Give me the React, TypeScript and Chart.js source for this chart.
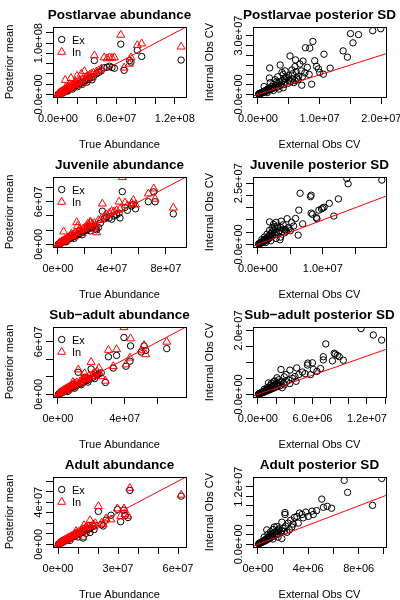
import React, { useEffect, useRef } from "react";
import { Chart, registerables } from "chart.js";

Chart.register(...registerables);

const MILLION = 1e6;
const FONT = '"Liberation Sans", Arial, Helvetica, sans-serif';

// ---------------- Postlarvae (values in millions) ----------------
const postlarvaeTrue = [0.3,0.6,1.0,1.4,1.8,2.3,2.8,3.3,3.9,4.5,5.2,6.0,6.8,7.5,8.4,9.3,10.2,11.2,12.3,13.4,14.6,15.8,17.0,18.3,19.6,21.0,22.5,24.0,25.5,27.2,29.0,30.8,32.6,34.5,36.5,37.4,39.5,42.0,44.5,47.5,50.5,53.0,55.5,58.0,64.5,68.0,73.5,75.0,81.5,86.0,126.5,5.0,10.0,15.0,20.0,25.0,30.0,35.0,8.0,12.0,18.0];
const postlarvaeEx = [0.4,0.5,0.9,1.3,1.5,2.0,2.4,3.0,3.4,4.0,4.6,5.2,6.0,6.8,7.5,8.3,9.0,10.5,11.0,12.0,13.5,14.0,15.5,17.0,18.0,19.5,21.0,22.0,24.0,26.0,27.5,29.0,32.0,33.0,35.0,66.0,40.0,43.0,46.0,52.0,53.0,55.0,52.5,51.0,98.0,47.0,66.0,63.0,86.0,74.0,67.0,2.5,6.5,10.5,15.0,19.5,24.0,28.5,10.0,14.0,20.0];
const postlarvaeIn = [0.7,1.2,1.8,2.4,2.6,3.6,3.8,4.8,5.0,6.2,6.5,7.5,8.5,28.0,10.5,11.5,12.5,13.5,15.0,31.7,17.5,18.5,19.5,21.0,36.0,23.5,26.0,40.0,29.5,45.0,34.0,36.0,38.0,40.0,42.0,76.0,44.0,47.0,50.0,72.0,70.0,72.0,71.0,72.0,116.0,52.0,59.5,72.0,96.0,99.0,93.0,4.0,9.0,13.0,18.0,23.0,29.0,33.0,14.0,20.0,26.0];
// [External Obs CV, Internal Obs CV]
const postlarvaeSd = [[19.9,33.5],[18.6,32.5],[16.3,30.5],[15.0,31.0],[15.4,26.3],[13.8,22.2],[14.5,19.0],[10.7,20.5],[11.7,13.4],[10.6,10.3],[8.9,27.0],[7.7,23.8],[8.4,23.6],[7.3,17.0],[8.0,13.8],[9.2,17.2],[9.5,14.3],[9.8,13.0],[10.0,11.2],[8.7,5.2],[7.1,4.7],[5.2,19.6],[6.1,17.6],[6.0,14.2],[6.2,11.6],[3.6,15.0],[1.9,13.5],[1.85,8.4],[4.1,10.2],[5.5,12.5],[6.8,15.5],[4.5,8.2],[5.0,9.5],[3.0,6.5],[6.5,7.5],[5.8,6.0],[5.6,10.5],[6.35,8.3],[4.3,7.9],[7.0,12.0],[7.6,11.0],[8.3,10.2],[7.2,9.0],[6.6,9.4],[0.1,0.2],[0.2,0.3],[0.3,0.5],[0.4,0.4],[0.5,0.7],[0.6,0.9],[0.7,0.8],[0.8,1.2],[0.9,1.0],[1.0,1.5],[1.1,1.3],[1.2,1.8],[1.3,2.1],[1.4,1.6],[1.5,2.5],[1.6,2.0],[1.7,3.0],[1.8,2.4],[2.0,3.3],[2.1,2.6],[2.2,4.0],[2.4,3.0],[2.5,5.0],[2.6,3.6],[2.8,4.4],[3.0,3.5],[3.1,5.5],[3.3,4.2],[3.5,6.5],[3.6,4.8],[3.8,5.3],[4.0,7.0],[4.2,5.0],[4.4,6.2],[4.6,8.8],[4.8,5.6],[5.0,7.3],[5.3,6.4],[5.6,8.0],[6.0,7.0],[1.0,4.0],[2.0,6.0],[2.8,7.5],[3.2,9.0],[3.9,11.2],[4.4,12.0],[1.5,0.9],[2.5,2.0],[3.4,2.7],[4.1,3.4]];

// ---------------- Juvenile ----------------
const juvenileTrue = [0.3,0.7,1.1,1.6,2.1,2.7,3.3,4.0,4.2,4.8,5.6,6.5,7.4,8.4,9.5,10.6,11.8,13.0,13.9,14.5,15.8,17.2,18.6,20.0,21.5,23.0,23.8,24.3,25.5,27.0,28.7,30.0,31.5,32.9,34.5,36.0,38.0,39.8,41.5,43.5,45.3,46.0,47.7,49.7,51.5,54.6,55.9,57.5,67.0,71.0,72.0,85.5,6.0,12.0,18.0,24.0,10.0,16.0,22.0,28.0];
const juvenileEx = [0.3,0.6,1.0,1.4,2.0,2.4,3.0,3.6,4.0,4.4,5.2,6.0,7.0,7.8,9.0,10.0,11.0,12.5,13.0,13.5,15.0,16.0,17.5,19.0,20.5,22.0,23.0,23.5,24.0,26.0,20.6,24.0,30.0,46.8,36.0,38.0,37.0,35.5,40.0,42.0,44.0,37.2,74.4,52.0,48.0,54.0,56.3,50.0,60.1,74.0,60.0,43.0,3.5,8.5,13.5,19.0,12.5,19.0,25.0,22.0];
const juvenileIn = [0.6,1.2,1.7,2.4,3.0,3.8,4.4,5.2,18.0,6.0,7.2,8.2,9.4,10.5,11.8,13.0,14.5,16.0,31.1,25.7,18.5,20.0,22.0,23.5,25.0,27.0,31.4,31.1,28.5,30.0,16.8,34.0,34.5,57.3,40.0,42.0,44.0,46.8,46.0,48.0,60.1,50.0,94.4,58.7,55.0,58.0,62.5,56.0,71.5,78.5,64.0,51.6,5.0,11.0,16.0,22.0,15.0,22.0,29.0,26.0];
const juvenileSd = [[19.1,26.3],[13.7,26.9],[13.9,24.8],[12.4,18.6],[11.0,16.8],[11.7,11.6],[10.0,14.9],[10.2,15.2],[9.8,14.5],[9.4,14.0],[8.2,12.8],[8.4,12.3],[9.0,11.0],[9.1,10.5],[6.5,20.9],[8.1,19.5],[8.2,20.1],[6.3,14.0],[5.8,10.6],[6.9,8.4],[6.2,3.8],[3.4,1.9],[4.5,10.5],[4.7,7.0],[1.8,9.2],[3.9,8.0],[5.2,9.0],[5.5,7.5],[4.2,6.0],[3.6,9.5],[2.8,9.0],[3.0,7.4],[2.4,8.2],[0.1,0.2],[0.2,0.4],[0.3,0.3],[0.4,0.7],[0.5,0.6],[0.6,1.0],[0.7,0.9],[0.8,1.4],[0.9,1.1],[1.0,1.8],[1.1,1.4],[1.2,2.2],[1.3,1.7],[1.4,2.6],[1.5,2.0],[1.6,3.2],[1.7,2.4],[1.8,3.8],[1.9,2.8],[2.0,4.4],[2.1,3.2],[2.2,5.2],[2.3,3.6],[2.5,6.0],[2.6,4.0],[2.8,5.0],[3.0,6.6],[3.2,4.8],[3.3,5.6],[3.5,7.0],[3.7,5.2],[3.9,6.2],[4.1,4.7],[4.4,5.4],[4.8,6.4],[5.0,5.6],[0.6,2.0],[1.0,3.0],[1.4,4.2],[1.8,5.8],[2.2,6.6],[2.6,7.2],[1.2,0.8],[2.0,1.5],[2.8,2.4],[3.5,3.0]];

// ---------------- Sub-adult ----------------
const subadultTrue = [0.3,0.7,1.1,1.5,2.0,2.5,3.0,3.6,4.2,4.8,5.5,6.2,7.0,7.8,8.6,9.5,10.4,11.3,12.2,13.2,14.2,15.3,16.4,17.5,18.7,19.9,21.0,22.3,23.5,24.6,26.0,28.5,30.3,33.2,35.2,39.6,40.8,43.2,43.6,50.0,51.7,52.7,65.3,6.0,10.0,14.0,18.0,22.0,9.0,16.0];
const subadultEx = [0.3,0.6,1.0,1.3,1.8,2.2,2.8,3.2,3.8,4.3,5.0,5.6,6.5,7.0,8.0,8.6,9.6,10.2,25.2,12.0,13.2,14.0,15.5,15.8,17.5,29.0,19.5,21.0,22.0,23.5,24.5,13.6,42.9,30.1,44.5,64.9,32.1,37.9,55.3,48.3,55.3,50.0,52.2,3.5,7.0,11.0,14.0,18.0,11.5,19.5];
const subadultIn = [0.6,1.2,1.7,2.2,2.8,3.4,4.0,4.8,5.4,6.2,7.0,7.8,8.8,9.5,10.5,11.5,12.5,13.6,28.3,14.5,16.0,17.0,18.5,19.0,21.0,36.8,23.0,24.5,26.0,30.2,20.6,15.5,50.6,32.0,51.4,76.5,34.0,41.8,63.7,50.0,56.0,45.6,59.9,5.0,9.0,13.0,17.0,21.0,14.0,24.0];
const subadultSd = [[11.35,20.6],[12.7,18.6],[13.62,17.0],[7.47,15.8],[7.2,11.8],[7.2,10.8],[8.4,12.9],[8.5,12.6],[8.74,12.2],[8.96,11.8],[8.2,10.5],[9.4,10.7],[6.9,8.1],[6.1,7.8],[6.0,9.9],[5.5,9.8],[5.45,9.2],[4.27,8.3],[4.08,5.6],[3.53,7.6],[2.54,7.8],[4.9,7.0],[4.5,6.2],[3.1,6.2],[2.9,5.5],[3.4,4.5],[3.8,5.0],[5.2,6.5],[2.3,4.6],[2.1,5.2],[1.75,4.0],[2.8,3.5],[2.2,3.1],[5.8,6.2],[6.5,7.2],[0.06,0.1],[0.12,0.2],[0.17,0.3],[0.23,0.2],[0.29,0.45],[0.35,0.4],[0.41,0.6],[0.46,0.5],[0.52,0.8],[0.58,0.6],[0.64,0.95],[0.7,0.8],[0.75,1.1],[0.81,0.9],[0.87,1.3],[0.93,1.0],[0.99,1.5],[1.05,1.2],[1.1,1.7],[1.16,1.3],[1.22,1.9],[1.28,1.5],[1.33,2.2],[1.4,1.6],[1.5,2.4],[1.57,1.8],[1.62,2.7],[1.74,2.0],[1.86,3.0],[1.91,2.2],[2.03,3.4],[2.15,2.5],[2.32,3.8],[2.44,2.7],[2.67,4.1],[2.9,3.0],[3.13,4.0],[0.7,1.6],[1.04,2.2],[1.4,2.9],[1.16,3.6],[1.5,3.5],[1.86,4.2],[2.67,2.1],[3.5,3.4],[4.2,4.1]];

// ---------------- Adult ----------------
const adultTrue = [0.2,0.5,0.8,1.1,1.5,1.9,2.3,2.8,3.3,3.8,4.4,5.0,5.6,6.3,7.0,7.8,8.6,9.4,10.3,11.2,12.2,13.2,14.3,15.4,16.0,16.3,17.5,18.7,20.2,21.8,22.6,24.0,26.5,29.7,31.3,33.0,33.5,35.9,61.6,12.5,35.0,6.0,10.0,14.0,18.0,9.0,13.0];
const adultEx = [0.2,0.4,0.8,1.0,1.4,1.8,2.1,2.7,3.0,3.6,4.1,4.8,5.3,6.0,6.6,7.5,8.2,9.0,10.0,10.8,11.8,12.5,13.8,14.8,11.2,15.5,17.0,18.0,31.3,18.7,17.5,23.0,27.7,33.2,21.5,32.5,27.4,51.3,45.8,6.0,25.5,3.8,7.0,10.5,14.0,10.5,15.0];
const adultIn = [0.4,0.8,1.2,1.5,2.0,2.5,2.9,3.5,4.0,4.6,5.2,5.9,6.5,7.3,8.0,8.9,9.8,10.6,11.7,12.6,13.8,14.8,16.0,17.2,22.8,17.0,19.0,20.0,36.2,20.5,19.0,24.5,23.5,34.0,26.5,34.0,28.5,53.5,47.0,7.0,27.0,5.5,9.0,13.0,17.0,12.5,18.0];
const adultSd = [[9.83,13.7],[6.85,13.3],[7.12,10.8],[9.1,8.1],[5.07,9.4],[5.2,7.7],[5.5,7.9],[5.85,7.5],[4.66,7.0],[4.3,6.9],[3.8,6.7],[3.3,6.5],[3.5,6.2],[3.1,5.8],[2.9,5.6],[3.6,5.5],[4.0,5.8],[4.4,6.2],[2.15,6.6],[2.15,6.2],[2.6,5.0],[2.4,4.4],[1.9,4.6],[1.65,3.2],[0.7,3.0],[1.9,1.2],[1.9,2.8],[2.2,3.8],[2.7,3.6],[3.2,4.4],[1.3,3.6],[0.05,0.1],[0.1,0.2],[0.15,0.2],[0.2,0.35],[0.25,0.3],[0.3,0.5],[0.35,0.45],[0.4,0.65],[0.45,0.55],[0.5,0.8],[0.55,0.7],[0.6,1.0],[0.65,0.85],[0.7,1.2],[0.75,1.0],[0.8,1.4],[0.85,1.15],[0.9,1.6],[0.95,1.3],[1.0,1.8],[1.05,1.45],[1.1,2.0],[1.15,1.6],[1.2,2.3],[1.3,1.8],[1.35,2.5],[1.45,2.0],[1.5,2.8],[1.6,2.2],[1.7,3.0],[1.8,2.5],[2.0,3.3],[2.1,2.7],[0.5,1.5],[0.8,2.1],[1.0,2.6],[1.2,3.1],[1.5,3.7],[1.2,1.1],[1.6,1.5],[2.3,2.5],[2.5,3.0],[2.8,4.2]];

// ---------------- Axis limits, ticks, labels (millions) ----------------
const abundanceXLabel = "True Abundance";
const abundanceYLabel = "Posterior mean";
const sdXLabel = "External Obs CV";
const sdYLabel = "Internal Obs CV";

const p1Lim = [-5.06, 131.5];
const p1Ticks = [0, 20, 40, 60, 80, 100, 120];
const p1XTickLabels = ["0.0e+00", "", "", "6.0e+07", "", "", "1.2e+08"];
const p1YTickLabels = ["0.0e+00", "", "", "", "", "1.0e+08", ""];

const p2XLim = [-0.8, 20.75];
const p2YLim = [-1.32, 34.38];
const p2XTicks = [0, 5, 10, 15, 20];
const p2XTickLabels = ["0.0e+00", "", "1.0e+07", "", "2.0e+07"];
const p2YTicks = [0, 5, 10, 15, 20, 25, 30];
const p2YTickLabels = ["0.0e+00", "", "", "", "", "", "3.0e+07"];

const p3Lim = [-3.65, 94.9];
const p3Ticks = [0, 20, 40, 60, 80];
const p3XTickLabels = ["0e+00", "", "4e+07", "", "8e+07"];
const p3YTickLabels = ["0e+00", "", "", "6e+07", ""];

const p4XLim = [-0.76, 19.74];
const p4YLim = [-1.06, 27.56];
const p4XTicks = [0, 5, 10, 15];
const p4XTickLabels = ["0.0e+00", "", "1.0e+07", ""];
const p4YTicks = [0, 5, 10, 15, 20, 25];
const p4YTickLabels = ["0.0e+00", "", "", "", "", "2.5e+07"];

const p5Lim = [-2.96, 76.86];
const p5Ticks = [0, 20, 40, 60];
const p5XTickLabels = ["0e+00", "", "4e+07", ""];
const p5YTickLabels = ["0e+00", "", "", "6e+07"];

const p6XLim = [-0.54, 14.1];
const p6YLim = [-0.81, 21.1];
const p6XTicks = [0, 2, 4, 6, 8, 10, 12, 14];
const p6XTickLabels = ["0.0e+00", "", "", "6.0e+06", "", "", "1.2e+07", ""];
const p6YTicks = [0, 5, 10, 15, 20];
const p6YTickLabels = ["0.0e+00", "", "", "", "2.0e+07"];

const p7Lim = [-2.5, 64.0];
const p7Ticks = [0, 10, 20, 30, 40, 50, 60];
const p7XTickLabels = ["0e+00", "", "", "3e+07", "", "", "6e+07"];
const p7YTickLabels = ["0e+00", "", "", "", "4e+07", "", ""];

const p8XLim = [-0.39, 10.17];
const p8YLim = [-0.56, 14.0];
const p8XTicks = [0, 2, 4, 6, 8, 10];
const p8XTickLabels = ["0e+00", "", "4e+06", "", "8e+06", ""];
const p8YTicks = [0, 2, 4, 6, 8, 10, 12];
const p8YTickLabels = ["0.0e+00", "", "", "", "", "", "1.2e+07"];

type Pt = { x: number; y: number };
type Spec = {
  title: string;
  xLabel: string;
  yLabel: string;
  xLim: number[];
  yLim: number[];
  xTicks: number[];
  xTickLabels: string[];
  yTicks: number[];
  yTickLabels: string[];
  ex: Pt[];
  inn: Pt[] | null;
};

function zipPoints(xs: number[], ys: number[]): Pt[] {
  return xs.map((x, i) => ({ x: x * MILLION, y: ys[i] * MILLION }));
}
function listPoints(list: number[][]): Pt[] {
  return list.map((p) => ({ x: p[0] * MILLION, y: p[1] * MILLION }));
}

const specs: Spec[] = [
  { title: "Postlarvae abundance", xLabel: abundanceXLabel, yLabel: abundanceYLabel, xLim: p1Lim, yLim: p1Lim, xTicks: p1Ticks, xTickLabels: p1XTickLabels, yTicks: p1Ticks, yTickLabels: p1YTickLabels, ex: zipPoints(postlarvaeTrue, postlarvaeEx), inn: zipPoints(postlarvaeTrue, postlarvaeIn) },
  { title: "Postlarvae posterior SD", xLabel: sdXLabel, yLabel: sdYLabel, xLim: p2XLim, yLim: p2YLim, xTicks: p2XTicks, xTickLabels: p2XTickLabels, yTicks: p2YTicks, yTickLabels: p2YTickLabels, ex: listPoints(postlarvaeSd), inn: null },
  { title: "Juvenile abundance", xLabel: abundanceXLabel, yLabel: abundanceYLabel, xLim: p3Lim, yLim: p3Lim, xTicks: p3Ticks, xTickLabels: p3XTickLabels, yTicks: p3Ticks, yTickLabels: p3YTickLabels, ex: zipPoints(juvenileTrue, juvenileEx), inn: zipPoints(juvenileTrue, juvenileIn) },
  { title: "Juvenile posterior SD", xLabel: sdXLabel, yLabel: sdYLabel, xLim: p4XLim, yLim: p4YLim, xTicks: p4XTicks, xTickLabels: p4XTickLabels, yTicks: p4YTicks, yTickLabels: p4YTickLabels, ex: listPoints(juvenileSd), inn: null },
  { title: "Sub\u2212adult abundance", xLabel: abundanceXLabel, yLabel: abundanceYLabel, xLim: p5Lim, yLim: p5Lim, xTicks: p5Ticks, xTickLabels: p5XTickLabels, yTicks: p5Ticks, yTickLabels: p5YTickLabels, ex: zipPoints(subadultTrue, subadultEx), inn: zipPoints(subadultTrue, subadultIn) },
  { title: "Sub\u2212adult posterior SD", xLabel: sdXLabel, yLabel: sdYLabel, xLim: p6XLim, yLim: p6YLim, xTicks: p6XTicks, xTickLabels: p6XTickLabels, yTicks: p6YTicks, yTickLabels: p6YTickLabels, ex: listPoints(subadultSd), inn: null },
  { title: "Adult abundance", xLabel: abundanceXLabel, yLabel: abundanceYLabel, xLim: p7Lim, yLim: p7Lim, xTicks: p7Ticks, xTickLabels: p7XTickLabels, yTicks: p7Ticks, yTickLabels: p7YTickLabels, ex: zipPoints(adultTrue, adultEx), inn: zipPoints(adultTrue, adultIn) },
  { title: "Adult posterior SD", xLabel: sdXLabel, yLabel: sdYLabel, xLim: p8XLim, yLim: p8YLim, xTicks: p8XTicks, xTickLabels: p8XTickLabels, yTicks: p8YTicks, yTickLabels: p8YTickLabels, ex: listPoints(adultSd), inn: null },
];

const CIRCLE_R = 3.2;
const TRIANGLE_R = 4.6;

function Panel({ spec, left, top }: { spec: Spec; left: number; top: number }) {
  const ref = useRef<HTMLCanvasElement | null>(null);

  useEffect(() => {
    const canvas = ref.current;
    if (!canvas) return;
    const M = MILLION;
    const lo = spec.xLim[0] * M;
    const hi = spec.xLim[1] * M;

    const datasets: any[] = [
      {
        label: "abline",
        data: [{ x: lo, y: lo }, { x: hi, y: hi }],
        showLine: true,
        borderColor: "#ff0000",
        borderWidth: 1,
        pointRadius: 0,
        fill: false,
        order: 0,
      },
    ];
    if (spec.inn) {
      datasets.push({
        label: "In",
        data: spec.inn,
        showLine: false,
        pointStyle: "triangle",
        pointRadius: TRIANGLE_R,
        pointBorderColor: "#ff0000",
        pointBackgroundColor: "rgba(0,0,0,0)",
        pointBorderWidth: 1,
        order: 1,
      });
    }
    datasets.push({
      label: "Ex",
      data: spec.ex,
      showLine: false,
      pointStyle: "circle",
      pointRadius: CIRCLE_R,
      pointBorderColor: "#000000",
      pointBackgroundColor: "rgba(0,0,0,0)",
      pointBorderWidth: 1,
      order: 2,
    });

    const axis = (lim: number[], ticks: number[], position: string) => ({
      type: "linear",
      position,
      min: lim[0] * M,
      max: lim[1] * M,
      afterBuildTicks: (scale: any) => {
        scale.ticks = ticks.map((v) => ({ value: v * M }));
      },
      ticks: { display: false },
      grid: {
        display: true,
        drawOnChartArea: false,
        drawTicks: true,
        tickLength: 7,
        color: "#000000",
        lineWidth: 1,
      },
      border: { display: false },
    });

    const decor = {
      id: "decor",
      afterDraw(chart: any) {
        const { ctx, chartArea: a } = chart;
        const xs = chart.scales.x;
        const ys = chart.scales.y;
        ctx.save();
        // box
        ctx.strokeStyle = "#000000";
        ctx.lineWidth = 1;
        const L = Math.round(a.left) + 0.5;
        const T = Math.round(a.top) + 0.5;
        const R = Math.round(a.right) + 0.5;
        const B = Math.round(a.bottom) + 0.5;
        ctx.strokeRect(L, T, R - L, B - T);

        const cx = (a.left + a.right) / 2;
        ctx.fillStyle = "#000000";
        ctx.textBaseline = "alphabetic";
        ctx.textAlign = "center";
        // title
        ctx.font = `bold 13.5px ${FONT}`;
        ctx.fillText(spec.title, cx, a.top - 8);
        // x tick labels
        ctx.font = `11px ${FONT}`;
        spec.xTicks.forEach((v, i) => {
          const lab = spec.xTickLabels[i];
          if (lab) ctx.fillText(lab, xs.getPixelForValue(v * M), a.bottom + 24.5);
        });
        // x label
        ctx.fillText(spec.xLabel, cx, a.bottom + 51);
        // y tick labels
        spec.yTicks.forEach((v, i) => {
          const lab = spec.yTickLabels[i];
          if (!lab) return;
          ctx.save();
          ctx.translate(a.left - 11, ys.getPixelForValue(v * M));
          ctx.rotate(-Math.PI / 2);
          ctx.fillText(lab, 0, 0);
          ctx.restore();
        });
        // y label
        ctx.save();
        ctx.translate(a.left - 40, (a.top + a.bottom) / 2);
        ctx.rotate(-Math.PI / 2);
        ctx.fillText(spec.yLabel, 0, 0);
        ctx.restore();

        // legend
        if (spec.inn) {
          const lx = a.left + 8.7;
          const ly1 = a.top + 12.5;
          const ly2 = a.top + 25;
          ctx.strokeStyle = "#000000";
          ctx.beginPath();
          ctx.arc(lx, ly1, CIRCLE_R, 0, Math.PI * 2);
          ctx.stroke();
          ctx.strokeStyle = "#ff0000";
          ctx.beginPath();
          const r = TRIANGLE_R;
          ctx.moveTo(lx, ly2 - r);
          ctx.lineTo(lx + r * 0.866, ly2 + r / 2);
          ctx.lineTo(lx - r * 0.866, ly2 + r / 2);
          ctx.closePath();
          ctx.stroke();
          ctx.textAlign = "left";
          ctx.fillStyle = "#000000";
          ctx.fillText("Ex", a.left + 19, ly1 + 4);
          ctx.fillText("In", a.left + 19, ly2 + 4);
        }
        ctx.restore();
      },
    };

    const chart = new Chart(canvas, {
      type: "scatter",
      data: { datasets },
      options: {
        responsive: false,
        maintainAspectRatio: false,
        devicePixelRatio: 1,
        animation: false,
        events: [],
        layout: { padding: { left: 46, right: 14, top: 27, bottom: 46 } },
        plugins: {
          legend: { display: false },
          tooltip: { enabled: false },
          title: { display: false },
        },
        scales: {
          x: axis(spec.xLim, spec.xTicks, "bottom"),
          y: axis(spec.yLim, spec.yTicks, "left"),
        },
      } as any,
      plugins: [decor],
    });

    return () => {
      chart.destroy();
    };
  }, [spec]);

  return (
    <canvas
      ref={ref}
      width={200}
      height={150}
      style={{ position: "absolute", left, top, width: 200, height: 150 }}
    />
  );
}

export default function App() {
  return (
    <div
      style={{
        position: "absolute",
        left: 0,
        top: 0,
        width: 400,
        height: 600,
        background: "#ffffff",
      }}
    >
      {specs.map((s, i) => (
        <Panel key={i} spec={s} left={(i % 2) * 200} top={Math.floor(i / 2) * 150} />
      ))}
    </div>
  );
}
